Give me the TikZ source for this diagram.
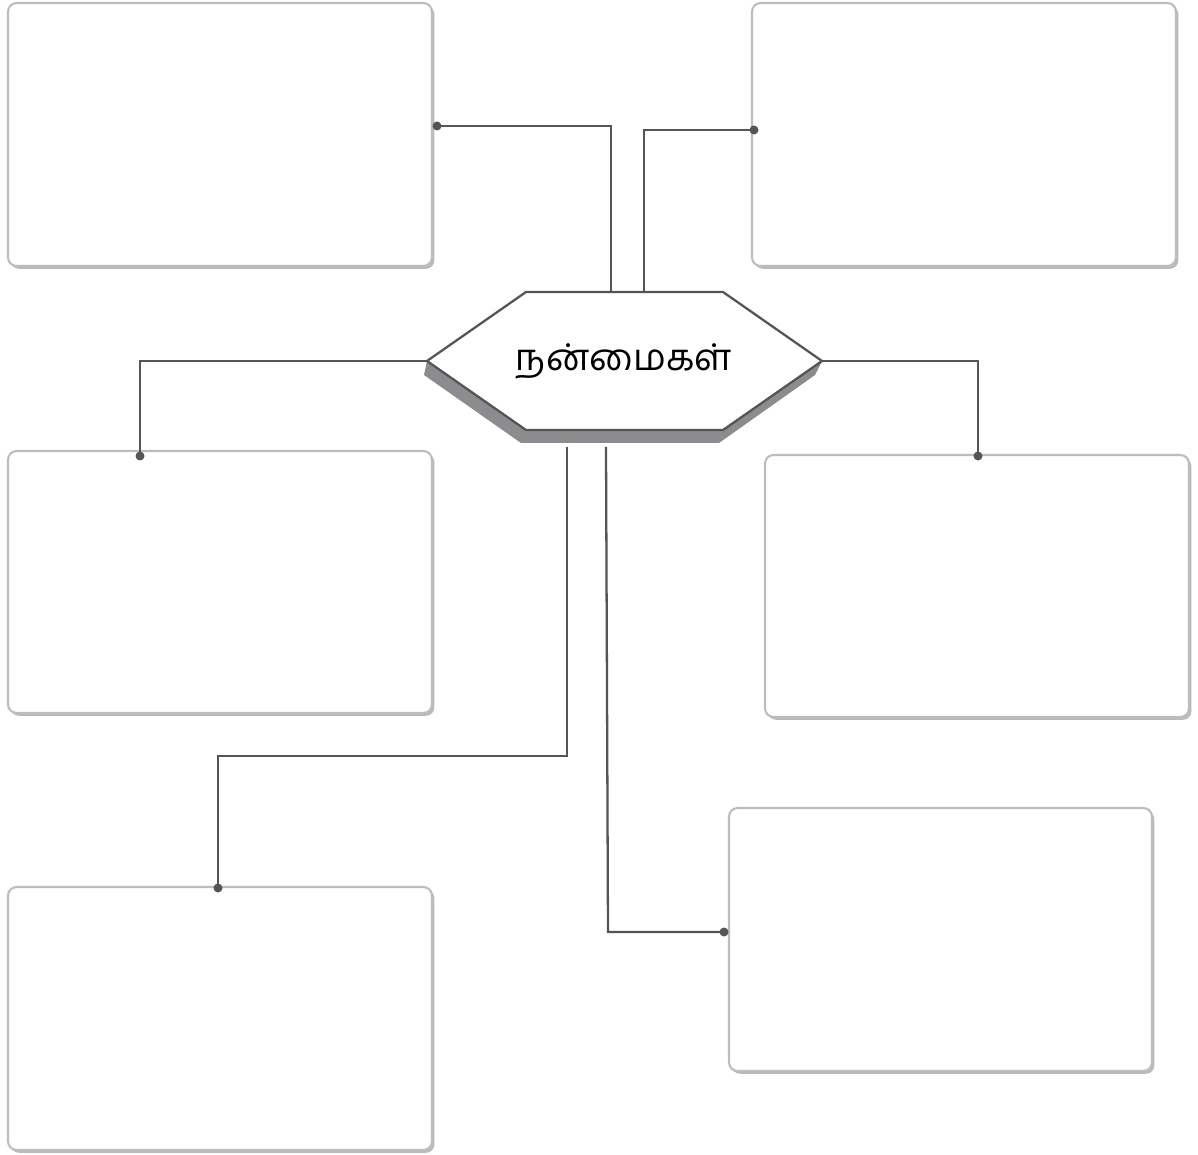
\documentclass[tikz,border=0pt]{standalone}
\usepackage{fontspec}
\newfontfamily\tamilfont[Script=Tamil]{Hind Madurai}
\usetikzlibrary{shadows,calc}
\definecolor{linegray}{HTML}{555557}
\definecolor{boxgray}{HTML}{BDBDBF}
\definecolor{hexshadow}{HTML}{8C8C8E}
\tikzset{
  infobox/.style={draw=boxgray, line width=1.2pt, fill=white, rounded corners=0.17cm,
    minimum width=8.48cm, minimum height=5.26cm, inner sep=0pt,
    drop shadow={shadow xshift=1.4pt, shadow yshift=-1.6pt, opacity=0.45, fill=black!60}},
  conn/.style={draw=linegray, line width=1.3pt},
  dotmark/.style={fill=linegray, draw=none}
}
\begin{document}
\begin{tikzpicture}[x=0.02cm,y=-0.02cm]
\useasboundingbox (0,0) rectangle (1198,1155);
\fill[white] (0,0) rectangle (1198,1155);
% boxes
\node[infobox] (b1) at (220,134.5) {};
\node[infobox] (b2) at (964,134.5) {};
\node[infobox, minimum height=5.24cm] (b3) at (220,582) {};
\node[infobox, minimum height=5.24cm] (b4) at (977,586) {};
\node[infobox] (b5) at (220,1018.5) {};
\node[infobox, minimum width=8.46cm] (b6) at (940.5,939.5) {};
% hexagon
\coordinate (hL) at (427,361);
\coordinate (hTL) at (526,292);
\coordinate (hTR) at (723,292);
\coordinate (hR) at (822,361);
\coordinate (hBR) at (723,430);
\coordinate (hBL) at (526,430);
\fill[hexshadow] ($(hL)+(-3,14)$) -- ($(hBL)+(-5,13)$) -- ($(hBR)+(-4,13)$) -- ($(hR)+(-7,14)$) -- (hR) -- (hBR) -- (hBL) -- (hL) -- cycle;
\draw[conn, fill=white, line join=miter] (hL) -- (hTL) -- (hTR) -- (hR) -- (hBR) -- (hBL) -- cycle;
\node[font=\tamilfont\fontsize{21}{25}\selectfont, inner sep=0pt] (hex) at (624,361) {நன்மைகள்};
% connector anchor points
\coordinate (t1) at (611,292);
\coordinate (t2) at (644,292);
\coordinate (s1) at (567,447);
\coordinate (s2) at (606,447);
\coordinate (d1) at (437,126);
\coordinate (d2) at (754,130);
\coordinate (d3) at (140,456);
\coordinate (d4) at (978,456);
\coordinate (d5) at (218,888);
\coordinate (d6) at (724,932);
% connectors
\draw[conn] (t1) -- (611,126) -- (d1);
\draw[conn] (t2) -- (644,130) -- (d2);
\draw[conn] (hL) -- (140,361) -- (d3);
\draw[conn] (hR) -- (978,361) -- (d4);
\draw[conn] (s1) -- (567,756) -- (218,756) -- (d5);
\draw[conn] (s2) -- (608,932) -- (d6);
\foreach \d in {d1,d2,d3,d4,d5,d6} \fill[dotmark] (\d) circle (4.5);
\end{tikzpicture}
\end{document}
